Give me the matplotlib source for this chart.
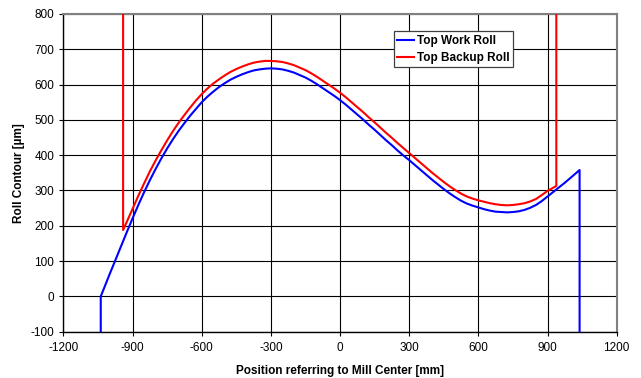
import matplotlib
matplotlib.use("Agg")
import matplotlib.pyplot as plt

plt.rcParams['font.family'] = ['Liberation Sans', 'DejaVu Sans']
plt.rcParams['axes.unicode_minus'] = False

# Top work roll contour, positions in mm, contour in µm
work_x = [-1038, -1038, -1025, -1000, -975, -950, -925, -900, -875, -850, -825, -800, -775, -750,
          -725, -700, -675, -650, -625, -600, -575, -550, -525, -500, -475, -450, -425, -400,
          -375, -350, -325, -300, -275, -250, -225, -200, -175, -150, -125, -100, -75, -50, -25,
          0, 25, 50, 75, 100, 125, 150, 175, 200, 225, 250, 275, 300, 325, 350, 375, 400, 425,
          450, 475, 500, 525, 550, 575, 600, 625, 650, 675, 700, 725, 750, 775, 800, 825, 850,
          875, 900, 925, 950, 975, 1000, 1039, 1039]
work_y = [-100, 0, 21, 62, 102, 142, 182, 221, 259, 295, 329, 361, 391, 419,
          445, 469, 491, 512, 531, 550, 566, 580, 593, 604, 614, 622, 629, 635,
          640, 643, 645, 646, 645, 643, 639, 634, 627, 620, 611, 601, 590, 579, 568,
          556, 543, 529, 515, 501, 486, 472, 457, 442, 428, 413, 399, 386, 372, 358, 344, 330, 317,
          304, 292, 281, 271, 263, 257, 252, 247, 243, 240, 239, 238, 239, 241, 245, 251, 259,
          270, 283, 296, 309, 322, 336, 358, -100]

# Top backup roll contour
backup_x = [-941, -941, -925, -900, -875, -850, -825, -800, -775, -750, -725, -700, -675, -650,
            -625, -600, -575, -550, -525, -500, -475, -450, -425, -400, -375, -350, -325, -300,
            -275, -250, -225, -200, -175, -150, -125, -100, -75, -50, -25, 0, 25, 50, 75, 100,
            125, 150, 175, 200, 225, 250, 275, 300, 325, 350, 375, 400, 425, 450, 475, 500, 525,
            550, 575, 600, 625, 650, 675, 700, 725, 750, 775, 800, 825, 850, 875, 900, 925, 938, 938]
backup_y = [800, 188, 211, 248, 285, 320, 354, 385, 414, 442, 468, 492, 514, 535,
            555, 573, 589, 603, 615, 626, 636, 644, 651, 657, 662, 665, 667, 667,
            666, 664, 660, 655, 648, 641, 632, 622, 611, 600, 589, 577, 564, 550, 536, 522,
            507, 493, 478, 463, 449, 434, 420, 406, 392, 378, 364, 350, 337, 324, 312, 301, 291,
            283, 277, 272, 268, 264, 261, 259, 258, 259, 261, 264, 269, 276, 287, 299, 308, 313, 800]

xticks = list(range(-1200, 1201, 300))
yticks = list(range(-100, 801, 100))

fig = plt.figure(figsize=(6.41, 3.78), dpi=100)
ax = fig.add_axes([0.0989, 0.1225, 0.8632, 0.8405])

ax.plot(work_x, work_y, color='#0000FF', lw=1.5, label='Top Work Roll', zorder=3)
ax.plot(backup_x, backup_y, color='#FF0000', lw=1.5, label='Top Backup Roll', zorder=3)

ax.set_xlim(-1200, 1200)
ax.set_ylim(-100, 800)
ax.set_xticks(xticks)
ax.set_yticks(yticks)
ax.grid(True, color='black', lw=0.8)
ax.set_axisbelow(True)
ax.tick_params(labelsize=8.5, length=3, width=0.8, color='black')
ax.tick_params(axis='y', pad=3.5)
ax.tick_params(axis='x', pad=4.5)

for s in ['top', 'right']:
    ax.spines[s].set_color('#808080')
    ax.spines[s].set_linewidth(1.5)
for s in ['left', 'bottom']:
    ax.spines[s].set_color('black')
    ax.spines[s].set_linewidth(1.0)

ax.set_xlabel('Position referring to Mill Center [mm]', fontsize=8.5, fontweight='bold', labelpad=8)
ax.set_ylabel('Roll Contour [µm]', fontsize=8.5, fontweight='bold', labelpad=4)

leg = ax.legend(loc='upper left', bbox_to_anchor=(0.597, 0.945), fontsize=8.5, frameon=True,
                fancybox=False, edgecolor='#404040', framealpha=1, handlelength=1.45,
                handletextpad=0.23, borderpad=0.3, labelspacing=0.4, borderaxespad=0)
leg.get_frame().set_linewidth(0.9)
for t in leg.get_texts():
    t.set_fontweight('bold')

fig.savefig('out.png', dpi=100)
